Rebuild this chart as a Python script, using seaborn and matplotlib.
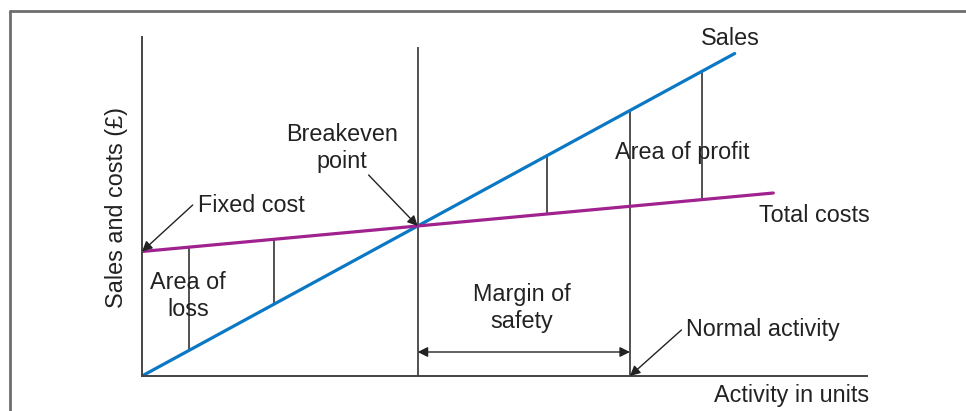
import numpy as np
import pandas as pd
import matplotlib
matplotlib.use("Agg")
import matplotlib.pyplot as plt
from matplotlib.lines import Line2D
import seaborn as sns

# activity scaled so that breakeven = 100 units, sales at breakeven = 100
sales_x = [0, 100, 215]
sales_y = [0, 100, 215]
cost_x = [0, 100, 229]
cost_y = [83, 100, 122]

breakeven = 100
normal_activity = 177
loss_marks = [17, 48]
profit_marks = [147, 203]
breakeven_top = 219

x_max = 263
y_max = 226

BLUE = "#0a78c4"
PURPLE = "#a0228f"
INK = "#222222"
AXIS = "#444444"
FONT = 16.8

sns.set_theme(style="white")
plt.rcParams["font.family"] = ["Liberation Sans", "DejaVu Sans"]

W, H = 966, 411
fig = plt.figure(figsize=(W / 100, H / 100), dpi=100)
ax = fig.add_axes([142 / W, (H - 376) / H, (867 - 142) / W, (376 - 37) / H])

sales = pd.DataFrame({"units": sales_x, "value": sales_y})
costs = pd.DataFrame({"units": cost_x, "value": cost_y})
sns.lineplot(data=sales, x="units", y="value", color=BLUE, lw=2.3, ax=ax)
sns.lineplot(data=costs, x="units", y="value", color=PURPLE, lw=2.3, ax=ax)

ax.set_xlim(0, x_max)
ax.set_ylim(0, y_max)
ax.set_xticks([])
ax.set_yticks([])
for s in ["top", "right"]:
    ax.spines[s].set_visible(False)
for s in ["left", "bottom"]:
    ax.spines[s].set_color(AXIS)
    ax.spines[s].set_linewidth(1.4)
ax.set_xlabel("")
ax.set_ylabel("Sales and costs (£)", fontsize=FONT, color=INK)
ax.yaxis.set_label_coords(-14 / 725, 0.4985)

# vertical markers between the lines
def sales_at(x):
    return np.interp(x, sales_x, sales_y)

def cost_at(x):
    return np.interp(x, cost_x, cost_y)

for m in loss_marks + profit_marks:
    ax.vlines(m, min(sales_at(m), cost_at(m)), max(sales_at(m), cost_at(m)),
              color=INK, lw=1.1, zorder=1)
ax.vlines(breakeven, 0, breakeven_top, color=INK, lw=1.1, zorder=1)
ax.vlines(normal_activity, 0, sales_at(normal_activity), color=INK, lw=1.1, zorder=1)

arrow = dict(arrowstyle="-|>", color=INK, lw=1.0, mutation_scale=15, shrinkA=0, shrinkB=0)

ax.annotate("", xy=(0, cost_y[0]), xytext=(18.4, 114), arrowprops=arrow)
ax.annotate("", xy=(breakeven, sales_at(breakeven)), xytext=(82.2, 134), arrowprops=arrow)
ax.annotate("", xy=(normal_activity, 0), xytext=(195.7, 30.7), arrowprops=arrow)
ax.annotate("", xy=(breakeven, 16), xytext=(normal_activity, 16),
            arrowprops=dict(arrowstyle="<|-|>", color=INK, lw=1.0, mutation_scale=15,
                            shrinkA=0, shrinkB=0))

txt = dict(fontsize=FONT, color=INK)
ax.text(213.4, 225.3, "Sales", ha="center", va="center", **txt)
ax.text(72.5, 152, "Breakeven\npoint", ha="center", va="center", multialignment="center", **txt)
ax.text(20.3, 114, "Fixed cost", ha="left", va="center", **txt)
ax.text(16.7, 53.3, "Area of\nloss", ha="center", va="center", multialignment="center", **txt)
ax.text(196, 149.3, "Area of profit", ha="center", va="center", **txt)
ax.text(223.9, 106.7, "Total costs", ha="left", va="center", **txt)
ax.text(137.7, 45.3, "Margin of\nsafety", ha="center", va="center", multialignment="center", **txt)
ax.text(197.5, 31.3, "Normal activity", ha="left", va="center", **txt)
ax.text(263.8, -12.7, "Activity in units", ha="right", va="center", clip_on=False, **txt)

# outer frame (top and left edges)
fig.add_artist(Line2D([10 / W, 10 / W], [0, (H - 11) / H], color="#6e6e6e", lw=2,
                      transform=fig.transFigure))
fig.add_artist(Line2D([10 / W, 1], [(H - 11) / H, (H - 11) / H], color="#6e6e6e", lw=2,
                      transform=fig.transFigure))

fig.savefig("out.png", dpi=100)
